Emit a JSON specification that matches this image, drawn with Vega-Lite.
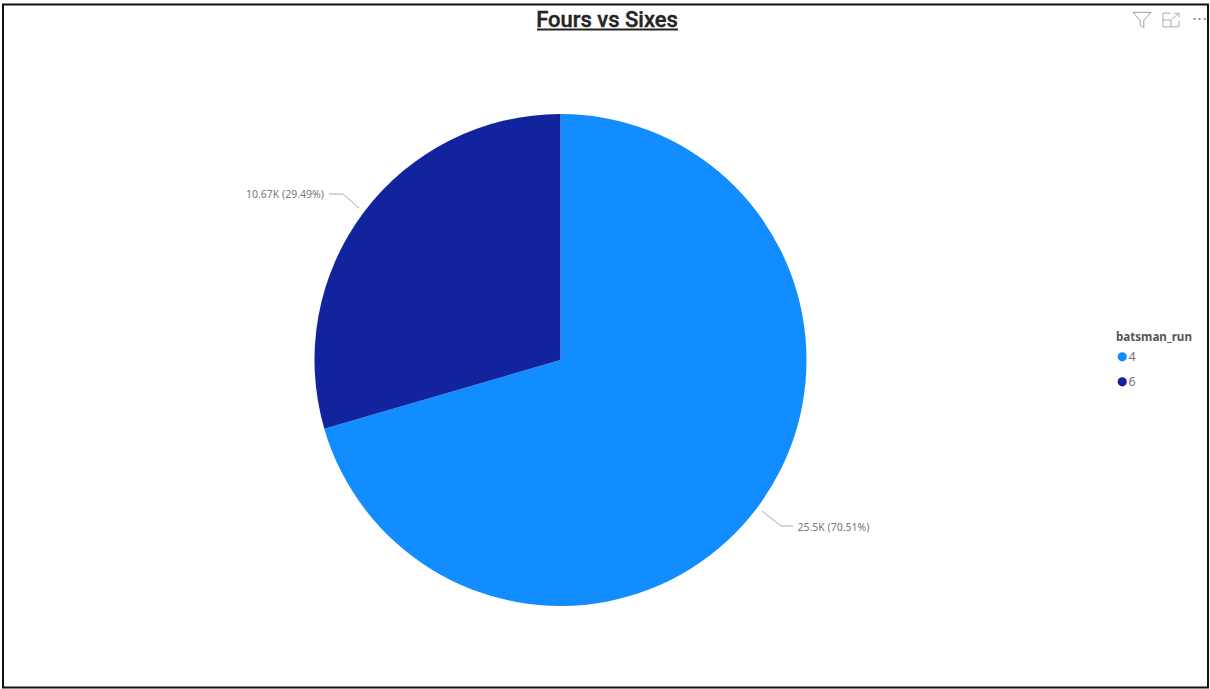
{
"$schema":"https://vega.github.io/schema/vega-lite/v6.json",
"width":1210,"height":689,"padding":0,"autosize":{"type":"fit","contains":"padding"},
"background":"#ffffff",
"config":{"view":{"stroke":null},"font":"Noto Sans"},
"data":{"values":[{"batsman_run":"4","count":25500,"label":"25.5K (70.51%)"},{"batsman_run":"6","count":10670,"label":"10.67K (29.49%)"}]},
"encoding":{},
"resolve":{"scale":{"x":"shared","y":"shared"}},
"layer":[
{"mark":{"type":"arc","outerRadius":246},
 "encoding":{
  "theta":{"field":"count","type":"quantitative","stack":true,"scale":{"range":[0,6.28318530718]}},
  "order":{"field":"batsman_run","type":"ordinal"},
  "x":{"datum":560.5,"type":"quantitative","scale":{"domain":[0,1210],"range":[0,1210],"nice":false,"zero":false},"axis":null},
  "y":{"datum":360,"type":"quantitative","scale":{"domain":[0,689],"range":[0,689],"nice":false,"zero":false},"axis":null},
  "color":{"field":"batsman_run","type":"nominal","scale":{"domain":["4","6"],"range":["#118DFF","#12239E"]},
   "legend":{"orient":"none","legendX":1116,"legendY":332,"title":"batsman_run","titleFont":"Noto Sans","titleFontSize":11.6,"titleFontWeight":"bold","titleColor":"#555555","titlePadding":7,"labelFont":"Noto Sans","labelFontSize":12.5,"labelColor":"#777777","labelOffset":0,"symbolType":"circle","symbolSize":85,"symbolStrokeWidth":0,"rowPadding":12}}
 }},
{"transform":[{"filter":"datum.batsman_run=='6'"}],"mark":{"type":"text","font":"Noto Sans","fontSize":10.5,"color":"#777777","align":"center","baseline":"middle"},
 "encoding":{"text":{"field":"label"},"x":{"datum":285},"y":{"datum":195}}},
{"transform":[{"filter":"datum.batsman_run=='4'"}],"mark":{"type":"text","font":"Noto Sans","fontSize":10.5,"color":"#777777","align":"center","baseline":"middle"},
 "encoding":{"text":{"field":"label"},"x":{"datum":833.5},"y":{"datum":528}}},
{"transform":[{"filter":"datum.batsman_run=='6'"}],"mark":{"type":"rule","color":"#aaaaaa","strokeWidth":1},
 "encoding":{"x":{"datum":329},"x2":{"datum":343},"y":{"datum":194},"y2":{"datum":194}}},
{"transform":[{"filter":"datum.batsman_run=='6'"}],"mark":{"type":"rule","color":"#aaaaaa","strokeWidth":1},
 "encoding":{"x":{"datum":343},"x2":{"datum":359},"y":{"datum":194},"y2":{"datum":208}}},
{"transform":[{"filter":"datum.batsman_run=='4'"}],"mark":{"type":"rule","color":"#aaaaaa","strokeWidth":1},
 "encoding":{"x":{"datum":762},"x2":{"datum":781},"y":{"datum":511},"y2":{"datum":526}}},
{"transform":[{"filter":"datum.batsman_run=='4'"}],"mark":{"type":"rule","color":"#aaaaaa","strokeWidth":1},
 "encoding":{"x":{"datum":781},"x2":{"datum":793},"y":{"datum":526},"y2":{"datum":526}}},
{"data":{"values":[{"title":"Fours vs Sixes"}]},"mark":{"type":"text","font":"Roboto","fontWeight":500,"fontSize":22,"color":"#252423","stroke":"#252423","strokeWidth":0.4,"align":"center","baseline":"alphabetic"},
 "encoding":{"text":{"field":"title"},"x":{"datum":607},"y":{"datum":27}}},
{"data":{"values":[{"title":"Fours vs Sixes"}]},"mark":{"type":"rule","color":"#252423","strokeWidth":2},
 "encoding":{"x":{"datum":537},"x2":{"datum":678},"y":{"datum":29.5},"y2":{"datum":29.5}}},
{"data":{"values":[{"icon":"filter"}]},"mark":{"type":"point","shape":"M-1,-0.85L1,-0.85L0.2,0.05V0.85L-0.2,0.6V0.05Z","size":324,"filled":false,"stroke":"#777777","strokeWidth":1},
 "encoding":{"x":{"datum":1142},"y":{"datum":20}}},
{"data":{"values":[{"icon":"focus"}]},"mark":{"type":"point","shape":"M-0.1,-0.85H-1V0.85H1V0.1M-1,0H0V0.85M0.1,-0.1L1,-0.85M0.4,-0.85H1V-0.3","size":256,"filled":false,"stroke":"#888888","strokeWidth":1},
 "encoding":{"x":{"datum":1171},"y":{"datum":20}}},
{"data":{"values":[{"icon":"more"}]},"mark":{"type":"text","text":"···","font":"DejaVu Sans","fontSize":16,"color":"#888888","align":"left","baseline":"middle"},
 "encoding":{"x":{"datum":1192},"y":{"datum":20}}},
{"data":{"values":[{"frame":"outer"}]},"mark":{"type":"rect","fillOpacity":0,"stroke":"#111111","strokeWidth":2},
 "encoding":{"x":{"datum":3},"x2":{"datum":1208},"y":{"datum":4.5},"y2":{"datum":687.5}}}
]
}
